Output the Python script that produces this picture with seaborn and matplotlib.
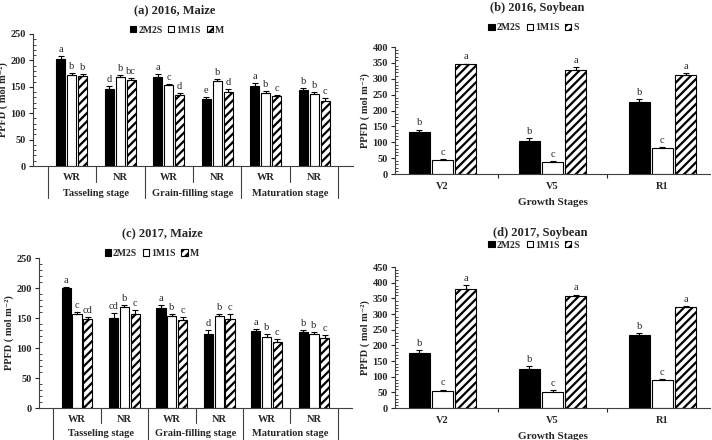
import matplotlib
matplotlib.use('Agg')
import matplotlib.pyplot as plt
from matplotlib.ticker import MultipleLocator, FixedLocator
import numpy as np
import pandas as pd
import seaborn as sns

# ---- data ----
maize_keys = ['T-WR', 'T-NR', 'G-WR', 'G-NR', 'M-WR', 'M-NR']
maize_ticks = ['WR', 'NR', 'WR', 'NR', 'WR', 'NR']
maize_stages = ['Tasseling stage', 'Grain-filling stage', 'Maturation stage']
maize_hues = ['2M2S', '1M1S', 'M']

soy_keys = ['V2', 'V5', 'R1']
soy_hues = ['2M2S', '1M1S', 'S']

# (a) 2016 maize
a_vals = [[203, 145, 169, 126, 151, 144],
          [173, 169, 153, 161, 138, 137],
          [170, 163, 135, 141, 132, 124]]
a_errs = [[5, 6, 5, 4, 6, 4],
          [3, 4, 2, 4, 4, 3],
          [5, 4, 3, 4, 3, 5]]
a_lets = [['a', 'd', 'a', 'e', 'a', 'b'],
          ['b', 'b', 'c', 'b', 'b', 'b'],
          ['b', 'bc', 'd', 'd', 'c', 'c']]

# (c) 2017 maize
c_vals = [[200, 150, 167, 124, 128, 127],
          [156, 169, 153, 153, 119, 123],
          [149, 156, 146, 149, 110, 116]]
c_errs = [[2, 8, 5, 6, 4, 3],
          [4, 2, 3, 3, 4, 4],
          [2, 7, 5, 7, 5, 6]]
c_lets = [['a', 'cd', 'a', 'd', 'a', 'b'],
          ['c', 'b', 'b', 'b', 'b', 'b'],
          ['cd', 'c', 'c', 'c', 'c', 'c']]

# (b) 2016 soybean
b_vals = [[132, 105, 228], [45, 38, 82], [345, 329, 313]]
b_errs = [[8, 7, 7], [2, 3, 2], [3, 8, 6]]
b_lets = [['b', 'b', 'b'], ['c', 'c', 'c'], ['a', 'a', 'a']]

# (d) 2017 soybean
d_vals = [[175, 123, 232], [53, 50, 88], [380, 357, 322]]
d_errs = [[11, 12, 6], [6, 6, 4], [12, 5, 3]]
d_lets = [['b', 'b', 'b'], ['c', 'c', 'c'], ['a', 'a', 'a']]

sns.set_style('ticks')
plt.rcParams['font.family'] = ['Liberation Serif', 'DejaVu Serif']
plt.rcParams['font.weight'] = 'bold'
plt.rcParams['axes.labelweight'] = 'bold'
plt.rcParams['hatch.linewidth'] = 1.6
plt.rcParams['axes.edgecolor'] = '#404040'

W, H = 712, 440
fig = plt.figure(figsize=(W / 100, H / 100), dpi=100)


def px_axes(left, right, top, bottom):
    return fig.add_axes([left / W, 1 - bottom / H, (right - left) / W, (bottom - top) / H])


def draw(ax, keys, hues, vals, errs, lets, width, gap, ymax):
    rows = []
    for hi, h in enumerate(hues):
        for ki, k in enumerate(keys):
            rows.append({'x': k, 'v': vals[hi][ki], 'h': h})
    df = pd.DataFrame(rows)
    sns.barplot(data=df, x='x', y='v', hue='h', order=keys, hue_order=hues,
                palette=['black', 'white', 'white'], saturation=1,
                edgecolor='black', linewidth=0.8, width=width, gap=gap,
                errorbar=None, legend=False, ax=ax)
    conts = list(ax.containers)
    for bar in conts[2]:
        bar.set_hatch('////')
    for ci, cont in enumerate(conts):
        for bar, e, l in zip(cont, errs[ci], lets[ci]):
            xc = bar.get_x() + bar.get_width() / 2
            top = bar.get_height()
            ax.errorbar(xc, top, yerr=[[0], [e]], color='black', capsize=2,
                        elinewidth=0.8, capthick=0.8)
            ax.annotate(l, (xc, top + e), xytext=(0, 1.5), textcoords='offset points',
                        ha='center', va='bottom', fontsize=7.5, fontweight='normal')
    ax.set_ylim(0, ymax)
    ax.yaxis.set_major_locator(MultipleLocator(50))
    ax.yaxis.set_minor_locator(MultipleLocator(10))
    ax.tick_params(axis='y', which='major', direction='out', length=3, width=0.8,
                   labelsize=7.5, pad=2)
    ax.tick_params(axis='y', which='minor', direction='in', length=2, width=0.6)
    ax.set_xlabel('')
    ax.set_ylabel('PPFD ( mol m⁻²)', fontsize=7.5, labelpad=1.5)
    sns.despine(ax=ax)
    ax.legend(conts, hues, loc='center', ncol=3, frameon=False,
              handlelength=0.65, handleheight=0.65, handletextpad=0.2,
              columnspacing=0.6, prop={'size': 7, 'weight': 'bold'})


def maize_axis(ax, short_px, long_px, stage_px, pad):
    ax.set_xticks(range(len(maize_ticks)))
    ax.set_xticklabels(maize_ticks)
    ax.tick_params(axis='x', length=0, labelsize=7.5, pad=pad)
    hpx = ax.get_position().height * H
    tr = ax.get_xaxis_transform()
    for x in [0.5, 2.5, 4.5]:
        ax.plot([x, x], [0, -short_px / hpx], transform=tr, clip_on=False,
                color='#404040', lw=0.8)
    for x in [-0.5, 1.5, 3.5, 5.5]:
        ax.plot([x, x], [0, -long_px / hpx], transform=tr, clip_on=False,
                color='#404040', lw=0.8)
    for i, s in enumerate(maize_stages):
        ax.text(2 * i + 0.5, -stage_px / hpx, s, transform=tr, ha='center',
                va='center', fontsize=7.5)


def soy_axis(ax):
    ax.set_xticks(range(len(soy_keys)))
    ax.set_xticklabels(soy_keys)
    ax.xaxis.set_minor_locator(FixedLocator([0.5, 1.5]))
    ax.tick_params(axis='x', which='major', length=0, labelsize=7.5, pad=6)
    ax.tick_params(axis='x', which='minor', length=3, width=0.8)
    ax.set_xlabel('Growth Stages', fontsize=8, labelpad=5)


# (a)
ax_a = px_axes(33, 353, 34, 166)
draw(ax_a, maize_keys, maize_hues, a_vals, a_errs, a_lets, 0.68, 0.15, 250)
maize_axis(ax_a, 16, 32, 27, 5)
ax_a.legend_.set_bbox_to_anchor((0.45, 1.03), transform=ax_a.transAxes)

# (b)
ax_b = px_axes(395, 710, 47, 174)
draw(ax_b, soy_keys, soy_hues, b_vals, b_errs, b_lets, 0.63, 0.12, 400)
soy_axis(ax_b)
ax_b.legend_.set_bbox_to_anchor((0.44, 1.15), transform=ax_b.transAxes)

# (c)
ax_c = px_axes(39, 352, 258, 408)
draw(ax_c, maize_keys, maize_hues, c_vals, c_errs, c_lets, 0.68, 0.15, 250)
maize_axis(ax_c, 15, 33, 25, 5)
ax_c.legend_.set_bbox_to_anchor((0.36, 1.03), transform=ax_c.transAxes)

# (d)
ax_d = px_axes(395, 710, 267, 408)
draw(ax_d, soy_keys, soy_hues, d_vals, d_errs, d_lets, 0.63, 0.12, 450)
soy_axis(ax_d)
ax_d.legend_.set_bbox_to_anchor((0.44, 1.155), transform=ax_d.transAxes)

fig.text(175 / W, 1 - 10 / H, '(a) 2016, Maize', ha='center', va='center', fontsize=9)
fig.text(537 / W, 1 - 8 / H, '(b) 2016, Soybean', ha='center', va='center', fontsize=9)
fig.text(162 / W, 1 - 233 / H, '(c) 2017, Maize', ha='center', va='center', fontsize=9)
fig.text(540 / W, 1 - 233 / H, '(d) 2017, Soybean', ha='center', va='center', fontsize=9)

fig.savefig('out.png', dpi=100)
